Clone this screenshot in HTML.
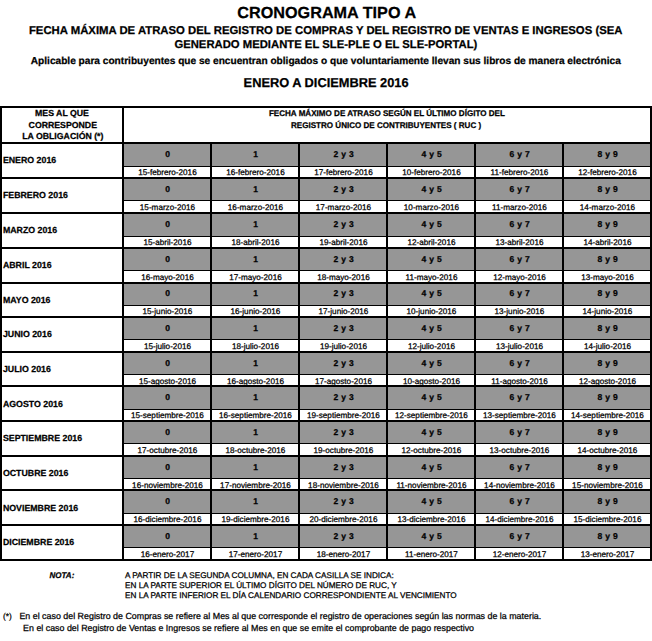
<!DOCTYPE html>
<html lang="es">
<head>
<meta charset="utf-8">
<title>Cronograma Tipo A</title>
<style>
html,body{margin:0;padding:0;background:#fff;}
body{width:652px;height:641px;overflow:hidden;}
svg{display:block;}
rect{shape-rendering:crispEdges;}
text{font-family:"Liberation Sans",sans-serif;fill:#000;white-space:pre;text-rendering:geometricPrecision;stroke:#000;stroke-width:0.25px;}
.b{font-weight:bold;}
.g{font-weight:bold;word-spacing:0.7px;}
.bi{font-weight:bold;font-style:italic;}
</style>
</head>
<body>
<svg width="652" height="641" viewBox="0 0 652 641">
<rect x="124" y="144" width="526" height="22" fill="#969696"/>
<rect x="124" y="166" width="526" height="1" fill="#000"/>
<rect x="124" y="179" width="526" height="21" fill="#969696"/>
<rect x="124" y="200" width="526" height="1" fill="#000"/>
<rect x="124" y="214" width="526" height="22" fill="#969696"/>
<rect x="124" y="236" width="526" height="1" fill="#000"/>
<rect x="124" y="249" width="526" height="21" fill="#969696"/>
<rect x="124" y="270" width="526" height="1" fill="#000"/>
<rect x="124" y="284" width="526" height="21" fill="#969696"/>
<rect x="124" y="305" width="526" height="1" fill="#000"/>
<rect x="124" y="318" width="526" height="21" fill="#969696"/>
<rect x="124" y="339" width="526" height="1" fill="#000"/>
<rect x="124" y="353" width="526" height="21" fill="#969696"/>
<rect x="124" y="374" width="526" height="1" fill="#000"/>
<rect x="124" y="387" width="526" height="22" fill="#969696"/>
<rect x="124" y="409" width="526" height="1" fill="#000"/>
<rect x="124" y="422" width="526" height="21" fill="#969696"/>
<rect x="124" y="443" width="526" height="1" fill="#000"/>
<rect x="124" y="457" width="526" height="21" fill="#969696"/>
<rect x="124" y="478" width="526" height="1" fill="#000"/>
<rect x="124" y="491" width="526" height="22" fill="#969696"/>
<rect x="124" y="513" width="526" height="1" fill="#000"/>
<rect x="124" y="526" width="526" height="21" fill="#969696"/>
<rect x="124" y="547" width="526" height="1" fill="#000"/>
<rect x="0" y="106" width="652" height="2" fill="#000"/>
<rect x="0" y="142" width="652" height="2" fill="#000"/>
<rect x="0" y="177" width="652" height="2" fill="#000"/>
<rect x="0" y="212" width="652" height="2" fill="#000"/>
<rect x="0" y="247" width="652" height="2" fill="#000"/>
<rect x="0" y="282" width="652" height="2" fill="#000"/>
<rect x="0" y="316" width="652" height="2" fill="#000"/>
<rect x="0" y="351" width="652" height="2" fill="#000"/>
<rect x="0" y="385" width="652" height="2" fill="#000"/>
<rect x="0" y="420" width="652" height="2" fill="#000"/>
<rect x="0" y="455" width="652" height="2" fill="#000"/>
<rect x="0" y="489" width="652" height="2" fill="#000"/>
<rect x="0" y="524" width="652" height="2" fill="#000"/>
<rect x="0" y="559" width="652" height="2" fill="#000"/>
<rect x="0" y="106" width="2" height="455" fill="#000"/>
<rect x="122" y="106" width="2" height="455" fill="#000"/>
<rect x="210" y="142" width="2" height="419" fill="#000"/>
<rect x="298" y="142" width="2" height="419" fill="#000"/>
<rect x="386" y="142" width="2" height="419" fill="#000"/>
<rect x="474" y="142" width="2" height="419" fill="#000"/>
<rect x="562" y="142" width="2" height="419" fill="#000"/>
<rect x="650" y="106" width="2" height="455" fill="#000"/>
<text x="237.30" y="17.80" font-size="16.04" class="b" textLength="178.80" lengthAdjust="spacingAndGlyphs">CRONOGRAMA TIPO A</text>
<text x="28.90" y="33.80" font-size="11.31" class="b" textLength="593.60" lengthAdjust="spacingAndGlyphs">FECHA MÁXIMA DE ATRASO DEL REGISTRO DE COMPRAS Y DEL REGISTRO DE VENTAS E INGRESOS (SEA</text>
<text x="174.40" y="48.40" font-size="11.31" class="b" textLength="303.00" lengthAdjust="spacingAndGlyphs">GENERADO MEDIANTE EL SLE-PLE O EL SLE-PORTAL)</text>
<text x="30.80" y="63.70" font-size="10.1" class="b" textLength="590.00" lengthAdjust="spacingAndGlyphs">Aplicable para contribuyentes que se encuentran obligados o que voluntariamente llevan sus libros de manera electrónica</text>
<text x="243.60" y="87.30" font-size="12.86" class="b" textLength="165.00" lengthAdjust="spacingAndGlyphs">ENERO A DICIEMBRE 2016</text>
<text x="62.00" y="116.00" font-size="8.74" class="b" text-anchor="middle">MES AL QUE</text>
<text x="62.80" y="127.80" font-size="8.74" class="b" text-anchor="middle">CORRESPONDE</text>
<text x="62.80" y="139.00" font-size="8.74" class="b" text-anchor="middle">LA OBLIGACIÓN (*)</text>
<text x="386.90" y="116.00" font-size="8.2" class="b" text-anchor="middle" textLength="236.00" lengthAdjust="spacingAndGlyphs">FECHA MÁXIMO DE ATRASO SEGÚN EL ÚLTIMO DÍGITO DEL</text>
<text x="386.10" y="128.00" font-size="8.2" class="b" text-anchor="middle" textLength="190.08" lengthAdjust="spacingAndGlyphs">REGISTRO ÚNICO DE CONTRIBUYENTES ( RUC )</text>
<text x="2.90" y="163.00" font-size="8.8" class="b">ENERO 2016</text>
<text x="167.60" y="157.00" font-size="8.5" class="g" text-anchor="middle">0</text>
<text x="167.45" y="175.00" font-size="8.2" class="d" text-anchor="middle" textLength="58.45" lengthAdjust="spacingAndGlyphs">15-febrero-2016</text>
<text x="255.60" y="157.00" font-size="8.5" class="g" text-anchor="middle">1</text>
<text x="255.45" y="175.00" font-size="8.2" class="d" text-anchor="middle" textLength="58.45" lengthAdjust="spacingAndGlyphs">16-febrero-2016</text>
<text x="343.60" y="157.00" font-size="8.5" class="g" text-anchor="middle">2 y 3</text>
<text x="343.45" y="175.00" font-size="8.2" class="d" text-anchor="middle" textLength="58.45" lengthAdjust="spacingAndGlyphs">17-febrero-2016</text>
<text x="431.60" y="157.00" font-size="8.5" class="g" text-anchor="middle">4 y 5</text>
<text x="431.45" y="175.00" font-size="8.2" class="d" text-anchor="middle" textLength="58.45" lengthAdjust="spacingAndGlyphs">10-febrero-2016</text>
<text x="519.60" y="157.00" font-size="8.5" class="g" text-anchor="middle">6 y 7</text>
<text x="519.45" y="175.00" font-size="8.2" class="d" text-anchor="middle" textLength="57.84" lengthAdjust="spacingAndGlyphs">11-febrero-2016</text>
<text x="607.60" y="157.00" font-size="8.5" class="g" text-anchor="middle">8 y 9</text>
<text x="607.45" y="175.00" font-size="8.2" class="d" text-anchor="middle" textLength="58.45" lengthAdjust="spacingAndGlyphs">12-febrero-2016</text>
<text x="2.90" y="198.00" font-size="8.8" class="b">FEBRERO 2016</text>
<text x="167.60" y="192.00" font-size="8.5" class="g" text-anchor="middle">0</text>
<text x="167.45" y="210.00" font-size="8.2" class="d" text-anchor="middle" textLength="55.27" lengthAdjust="spacingAndGlyphs">15-marzo-2016</text>
<text x="255.60" y="192.00" font-size="8.5" class="g" text-anchor="middle">1</text>
<text x="255.45" y="210.00" font-size="8.2" class="d" text-anchor="middle" textLength="55.27" lengthAdjust="spacingAndGlyphs">16-marzo-2016</text>
<text x="343.60" y="192.00" font-size="8.5" class="g" text-anchor="middle">2 y 3</text>
<text x="343.45" y="210.00" font-size="8.2" class="d" text-anchor="middle" textLength="55.27" lengthAdjust="spacingAndGlyphs">17-marzo-2016</text>
<text x="431.60" y="192.00" font-size="8.5" class="g" text-anchor="middle">4 y 5</text>
<text x="431.45" y="210.00" font-size="8.2" class="d" text-anchor="middle" textLength="55.27" lengthAdjust="spacingAndGlyphs">10-marzo-2016</text>
<text x="519.60" y="192.00" font-size="8.5" class="g" text-anchor="middle">6 y 7</text>
<text x="519.45" y="210.00" font-size="8.2" class="d" text-anchor="middle" textLength="54.66" lengthAdjust="spacingAndGlyphs">11-marzo-2016</text>
<text x="607.60" y="192.00" font-size="8.5" class="g" text-anchor="middle">8 y 9</text>
<text x="607.45" y="210.00" font-size="8.2" class="d" text-anchor="middle" textLength="55.27" lengthAdjust="spacingAndGlyphs">14-marzo-2016</text>
<text x="2.90" y="233.00" font-size="8.8" class="b">MARZO 2016</text>
<text x="167.60" y="227.00" font-size="8.5" class="g" text-anchor="middle">0</text>
<text x="167.45" y="245.00" font-size="8.2" class="d" text-anchor="middle" textLength="48.03" lengthAdjust="spacingAndGlyphs">15-abril-2016</text>
<text x="255.60" y="227.00" font-size="8.5" class="g" text-anchor="middle">1</text>
<text x="255.45" y="245.00" font-size="8.2" class="d" text-anchor="middle" textLength="48.03" lengthAdjust="spacingAndGlyphs">18-abril-2016</text>
<text x="343.60" y="227.00" font-size="8.5" class="g" text-anchor="middle">2 y 3</text>
<text x="343.45" y="245.00" font-size="8.2" class="d" text-anchor="middle" textLength="48.03" lengthAdjust="spacingAndGlyphs">19-abril-2016</text>
<text x="431.60" y="227.00" font-size="8.5" class="g" text-anchor="middle">4 y 5</text>
<text x="431.45" y="245.00" font-size="8.2" class="d" text-anchor="middle" textLength="48.03" lengthAdjust="spacingAndGlyphs">12-abril-2016</text>
<text x="519.60" y="227.00" font-size="8.5" class="g" text-anchor="middle">6 y 7</text>
<text x="519.45" y="245.00" font-size="8.2" class="d" text-anchor="middle" textLength="48.03" lengthAdjust="spacingAndGlyphs">13-abril-2016</text>
<text x="607.60" y="227.00" font-size="8.5" class="g" text-anchor="middle">8 y 9</text>
<text x="607.45" y="245.00" font-size="8.2" class="d" text-anchor="middle" textLength="48.03" lengthAdjust="spacingAndGlyphs">14-abril-2016</text>
<text x="2.90" y="268.00" font-size="8.8" class="b">ABRIL 2016</text>
<text x="167.60" y="262.00" font-size="8.5" class="g" text-anchor="middle">0</text>
<text x="167.45" y="280.00" font-size="8.2" class="d" text-anchor="middle" textLength="52.56" lengthAdjust="spacingAndGlyphs">16-mayo-2016</text>
<text x="255.60" y="262.00" font-size="8.5" class="g" text-anchor="middle">1</text>
<text x="255.45" y="280.00" font-size="8.2" class="d" text-anchor="middle" textLength="52.56" lengthAdjust="spacingAndGlyphs">17-mayo-2016</text>
<text x="343.60" y="262.00" font-size="8.5" class="g" text-anchor="middle">2 y 3</text>
<text x="343.45" y="280.00" font-size="8.2" class="d" text-anchor="middle" textLength="52.56" lengthAdjust="spacingAndGlyphs">18-mayo-2016</text>
<text x="431.60" y="262.00" font-size="8.5" class="g" text-anchor="middle">4 y 5</text>
<text x="431.45" y="280.00" font-size="8.2" class="d" text-anchor="middle" textLength="51.95" lengthAdjust="spacingAndGlyphs">11-mayo-2016</text>
<text x="519.60" y="262.00" font-size="8.5" class="g" text-anchor="middle">6 y 7</text>
<text x="519.45" y="280.00" font-size="8.2" class="d" text-anchor="middle" textLength="52.56" lengthAdjust="spacingAndGlyphs">12-mayo-2016</text>
<text x="607.60" y="262.00" font-size="8.5" class="g" text-anchor="middle">8 y 9</text>
<text x="607.45" y="280.00" font-size="8.2" class="d" text-anchor="middle" textLength="52.56" lengthAdjust="spacingAndGlyphs">13-mayo-2016</text>
<text x="2.90" y="303.00" font-size="8.8" class="b">MAYO 2016</text>
<text x="167.60" y="296.00" font-size="8.5" class="g" text-anchor="middle">0</text>
<text x="167.45" y="314.00" font-size="8.2" class="d" text-anchor="middle" textLength="49.85" lengthAdjust="spacingAndGlyphs">15-junio-2016</text>
<text x="255.60" y="296.00" font-size="8.5" class="g" text-anchor="middle">1</text>
<text x="255.45" y="314.00" font-size="8.2" class="d" text-anchor="middle" textLength="49.85" lengthAdjust="spacingAndGlyphs">16-junio-2016</text>
<text x="343.60" y="296.00" font-size="8.5" class="g" text-anchor="middle">2 y 3</text>
<text x="343.45" y="314.00" font-size="8.2" class="d" text-anchor="middle" textLength="49.85" lengthAdjust="spacingAndGlyphs">17-junio-2016</text>
<text x="431.60" y="296.00" font-size="8.5" class="g" text-anchor="middle">4 y 5</text>
<text x="431.45" y="314.00" font-size="8.2" class="d" text-anchor="middle" textLength="49.85" lengthAdjust="spacingAndGlyphs">10-junio-2016</text>
<text x="519.60" y="296.00" font-size="8.5" class="g" text-anchor="middle">6 y 7</text>
<text x="519.45" y="314.00" font-size="8.2" class="d" text-anchor="middle" textLength="49.85" lengthAdjust="spacingAndGlyphs">13-junio-2016</text>
<text x="607.60" y="296.00" font-size="8.5" class="g" text-anchor="middle">8 y 9</text>
<text x="607.45" y="314.00" font-size="8.2" class="d" text-anchor="middle" textLength="49.85" lengthAdjust="spacingAndGlyphs">14-junio-2016</text>
<text x="2.90" y="337.00" font-size="8.8" class="b">JUNIO 2016</text>
<text x="167.60" y="331.00" font-size="8.5" class="g" text-anchor="middle">0</text>
<text x="167.45" y="349.00" font-size="8.2" class="d" text-anchor="middle" textLength="47.12" lengthAdjust="spacingAndGlyphs">15-julio-2016</text>
<text x="255.60" y="331.00" font-size="8.5" class="g" text-anchor="middle">1</text>
<text x="255.45" y="349.00" font-size="8.2" class="d" text-anchor="middle" textLength="47.12" lengthAdjust="spacingAndGlyphs">18-julio-2016</text>
<text x="343.60" y="331.00" font-size="8.5" class="g" text-anchor="middle">2 y 3</text>
<text x="343.45" y="349.00" font-size="8.2" class="d" text-anchor="middle" textLength="47.12" lengthAdjust="spacingAndGlyphs">19-julio-2016</text>
<text x="431.60" y="331.00" font-size="8.5" class="g" text-anchor="middle">4 y 5</text>
<text x="431.45" y="349.00" font-size="8.2" class="d" text-anchor="middle" textLength="47.12" lengthAdjust="spacingAndGlyphs">12-julio-2016</text>
<text x="519.60" y="331.00" font-size="8.5" class="g" text-anchor="middle">6 y 7</text>
<text x="519.45" y="349.00" font-size="8.2" class="d" text-anchor="middle" textLength="47.12" lengthAdjust="spacingAndGlyphs">13-julio-2016</text>
<text x="607.60" y="331.00" font-size="8.5" class="g" text-anchor="middle">8 y 9</text>
<text x="607.45" y="349.00" font-size="8.2" class="d" text-anchor="middle" textLength="47.12" lengthAdjust="spacingAndGlyphs">14-julio-2016</text>
<text x="2.90" y="372.00" font-size="8.8" class="b">JULIO 2016</text>
<text x="167.60" y="366.00" font-size="8.5" class="g" text-anchor="middle">0</text>
<text x="167.45" y="384.00" font-size="8.2" class="d" text-anchor="middle" textLength="57.10" lengthAdjust="spacingAndGlyphs">15-agosto-2016</text>
<text x="255.60" y="366.00" font-size="8.5" class="g" text-anchor="middle">1</text>
<text x="255.45" y="384.00" font-size="8.2" class="d" text-anchor="middle" textLength="57.10" lengthAdjust="spacingAndGlyphs">16-agosto-2016</text>
<text x="343.60" y="366.00" font-size="8.5" class="g" text-anchor="middle">2 y 3</text>
<text x="343.45" y="384.00" font-size="8.2" class="d" text-anchor="middle" textLength="57.10" lengthAdjust="spacingAndGlyphs">17-agosto-2016</text>
<text x="431.60" y="366.00" font-size="8.5" class="g" text-anchor="middle">4 y 5</text>
<text x="431.45" y="384.00" font-size="8.2" class="d" text-anchor="middle" textLength="57.10" lengthAdjust="spacingAndGlyphs">10-agosto-2016</text>
<text x="519.60" y="366.00" font-size="8.5" class="g" text-anchor="middle">6 y 7</text>
<text x="519.45" y="384.00" font-size="8.2" class="d" text-anchor="middle" textLength="56.49" lengthAdjust="spacingAndGlyphs">11-agosto-2016</text>
<text x="607.60" y="366.00" font-size="8.5" class="g" text-anchor="middle">8 y 9</text>
<text x="607.45" y="384.00" font-size="8.2" class="d" text-anchor="middle" textLength="57.10" lengthAdjust="spacingAndGlyphs">12-agosto-2016</text>
<text x="2.90" y="407.00" font-size="8.8" class="b">AGOSTO 2016</text>
<text x="167.60" y="400.00" font-size="8.5" class="g" text-anchor="middle">0</text>
<text x="167.45" y="418.00" font-size="8.2" class="d" text-anchor="middle" textLength="72.94" lengthAdjust="spacingAndGlyphs">15-septiembre-2016</text>
<text x="255.60" y="400.00" font-size="8.5" class="g" text-anchor="middle">1</text>
<text x="255.45" y="418.00" font-size="8.2" class="d" text-anchor="middle" textLength="72.94" lengthAdjust="spacingAndGlyphs">16-septiembre-2016</text>
<text x="343.60" y="400.00" font-size="8.5" class="g" text-anchor="middle">2 y 3</text>
<text x="343.45" y="418.00" font-size="8.2" class="d" text-anchor="middle" textLength="72.94" lengthAdjust="spacingAndGlyphs">19-septiembre-2016</text>
<text x="431.60" y="400.00" font-size="8.5" class="g" text-anchor="middle">4 y 5</text>
<text x="431.45" y="418.00" font-size="8.2" class="d" text-anchor="middle" textLength="72.94" lengthAdjust="spacingAndGlyphs">12-septiembre-2016</text>
<text x="519.60" y="400.00" font-size="8.5" class="g" text-anchor="middle">6 y 7</text>
<text x="519.45" y="418.00" font-size="8.2" class="d" text-anchor="middle" textLength="72.94" lengthAdjust="spacingAndGlyphs">13-septiembre-2016</text>
<text x="607.60" y="400.00" font-size="8.5" class="g" text-anchor="middle">8 y 9</text>
<text x="607.45" y="418.00" font-size="8.2" class="d" text-anchor="middle" textLength="72.94" lengthAdjust="spacingAndGlyphs">14-septiembre-2016</text>
<text x="2.90" y="441.00" font-size="8.8" class="b">SEPTIEMBRE 2016</text>
<text x="167.60" y="435.00" font-size="8.5" class="g" text-anchor="middle">0</text>
<text x="167.45" y="453.00" font-size="8.2" class="d" text-anchor="middle" textLength="59.81" lengthAdjust="spacingAndGlyphs">17-octubre-2016</text>
<text x="255.60" y="435.00" font-size="8.5" class="g" text-anchor="middle">1</text>
<text x="255.45" y="453.00" font-size="8.2" class="d" text-anchor="middle" textLength="59.81" lengthAdjust="spacingAndGlyphs">18-octubre-2016</text>
<text x="343.60" y="435.00" font-size="8.5" class="g" text-anchor="middle">2 y 3</text>
<text x="343.45" y="453.00" font-size="8.2" class="d" text-anchor="middle" textLength="59.81" lengthAdjust="spacingAndGlyphs">19-octubre-2016</text>
<text x="431.60" y="435.00" font-size="8.5" class="g" text-anchor="middle">4 y 5</text>
<text x="431.45" y="453.00" font-size="8.2" class="d" text-anchor="middle" textLength="59.81" lengthAdjust="spacingAndGlyphs">12-octubre-2016</text>
<text x="519.60" y="435.00" font-size="8.5" class="g" text-anchor="middle">6 y 7</text>
<text x="519.45" y="453.00" font-size="8.2" class="d" text-anchor="middle" textLength="59.81" lengthAdjust="spacingAndGlyphs">13-octubre-2016</text>
<text x="607.60" y="435.00" font-size="8.5" class="g" text-anchor="middle">8 y 9</text>
<text x="607.45" y="453.00" font-size="8.2" class="d" text-anchor="middle" textLength="59.81" lengthAdjust="spacingAndGlyphs">14-octubre-2016</text>
<text x="2.90" y="476.00" font-size="8.8" class="b">OCTUBRE 2016</text>
<text x="167.60" y="470.00" font-size="8.5" class="g" text-anchor="middle">0</text>
<text x="167.45" y="488.00" font-size="8.2" class="d" text-anchor="middle" textLength="70.68" lengthAdjust="spacingAndGlyphs">16-noviembre-2016</text>
<text x="255.60" y="470.00" font-size="8.5" class="g" text-anchor="middle">1</text>
<text x="255.45" y="488.00" font-size="8.2" class="d" text-anchor="middle" textLength="70.68" lengthAdjust="spacingAndGlyphs">17-noviembre-2016</text>
<text x="343.60" y="470.00" font-size="8.5" class="g" text-anchor="middle">2 y 3</text>
<text x="343.45" y="488.00" font-size="8.2" class="d" text-anchor="middle" textLength="70.68" lengthAdjust="spacingAndGlyphs">18-noviembre-2016</text>
<text x="431.60" y="470.00" font-size="8.5" class="g" text-anchor="middle">4 y 5</text>
<text x="431.45" y="488.00" font-size="8.2" class="d" text-anchor="middle" textLength="70.07" lengthAdjust="spacingAndGlyphs">11-noviembre-2016</text>
<text x="519.60" y="470.00" font-size="8.5" class="g" text-anchor="middle">6 y 7</text>
<text x="519.45" y="488.00" font-size="8.2" class="d" text-anchor="middle" textLength="70.68" lengthAdjust="spacingAndGlyphs">14-noviembre-2016</text>
<text x="607.60" y="470.00" font-size="8.5" class="g" text-anchor="middle">8 y 9</text>
<text x="607.45" y="488.00" font-size="8.2" class="d" text-anchor="middle" textLength="70.68" lengthAdjust="spacingAndGlyphs">15-noviembre-2016</text>
<text x="2.90" y="511.00" font-size="8.8" class="b">NOVIEMBRE 2016</text>
<text x="167.60" y="504.00" font-size="8.5" class="g" text-anchor="middle">0</text>
<text x="167.45" y="522.00" font-size="8.2" class="d" text-anchor="middle" textLength="67.96" lengthAdjust="spacingAndGlyphs">16-diciembre-2016</text>
<text x="255.60" y="504.00" font-size="8.5" class="g" text-anchor="middle">1</text>
<text x="255.45" y="522.00" font-size="8.2" class="d" text-anchor="middle" textLength="67.96" lengthAdjust="spacingAndGlyphs">19-diciembre-2016</text>
<text x="343.60" y="504.00" font-size="8.5" class="g" text-anchor="middle">2 y 3</text>
<text x="343.45" y="522.00" font-size="8.2" class="d" text-anchor="middle" textLength="67.96" lengthAdjust="spacingAndGlyphs">20-diciembre-2016</text>
<text x="431.60" y="504.00" font-size="8.5" class="g" text-anchor="middle">4 y 5</text>
<text x="431.45" y="522.00" font-size="8.2" class="d" text-anchor="middle" textLength="67.96" lengthAdjust="spacingAndGlyphs">13-diciembre-2016</text>
<text x="519.60" y="504.00" font-size="8.5" class="g" text-anchor="middle">6 y 7</text>
<text x="519.45" y="522.00" font-size="8.2" class="d" text-anchor="middle" textLength="67.96" lengthAdjust="spacingAndGlyphs">14-diciembre-2016</text>
<text x="607.60" y="504.00" font-size="8.5" class="g" text-anchor="middle">8 y 9</text>
<text x="607.45" y="522.00" font-size="8.2" class="d" text-anchor="middle" textLength="67.96" lengthAdjust="spacingAndGlyphs">15-diciembre-2016</text>
<text x="2.90" y="545.00" font-size="8.8" class="b">DICIEMBRE 2016</text>
<text x="167.60" y="539.00" font-size="8.5" class="g" text-anchor="middle">0</text>
<text x="167.45" y="557.00" font-size="8.2" class="d" text-anchor="middle" textLength="53.47" lengthAdjust="spacingAndGlyphs">16-enero-2017</text>
<text x="255.60" y="539.00" font-size="8.5" class="g" text-anchor="middle">1</text>
<text x="255.45" y="557.00" font-size="8.2" class="d" text-anchor="middle" textLength="53.47" lengthAdjust="spacingAndGlyphs">17-enero-2017</text>
<text x="343.60" y="539.00" font-size="8.5" class="g" text-anchor="middle">2 y 3</text>
<text x="343.45" y="557.00" font-size="8.2" class="d" text-anchor="middle" textLength="53.47" lengthAdjust="spacingAndGlyphs">18-enero-2017</text>
<text x="431.60" y="539.00" font-size="8.5" class="g" text-anchor="middle">4 y 5</text>
<text x="431.45" y="557.00" font-size="8.2" class="d" text-anchor="middle" textLength="52.87" lengthAdjust="spacingAndGlyphs">11-enero-2017</text>
<text x="519.60" y="539.00" font-size="8.5" class="g" text-anchor="middle">6 y 7</text>
<text x="519.45" y="557.00" font-size="8.2" class="d" text-anchor="middle" textLength="53.47" lengthAdjust="spacingAndGlyphs">12-enero-2017</text>
<text x="607.60" y="539.00" font-size="8.5" class="g" text-anchor="middle">8 y 9</text>
<text x="607.45" y="557.00" font-size="8.2" class="d" text-anchor="middle" textLength="53.47" lengthAdjust="spacingAndGlyphs">13-enero-2017</text>
<text x="49.60" y="578.00" font-size="8.2" class="bi" textLength="24.73" lengthAdjust="spacingAndGlyphs">NOTA:</text>
<text x="125.00" y="578.00" font-size="8.2" textLength="268.75" lengthAdjust="spacingAndGlyphs">A PARTIR DE LA SEGUNDA COLUMNA, EN CADA CASILLA SE INDICA:</text>
<text x="125.00" y="588.20" font-size="8.2" textLength="271.75" lengthAdjust="spacingAndGlyphs">EN LA PARTE SUPERIOR EL ÚLTIMO DÍGITO DEL NÚMERO DE RUC, Y</text>
<text x="125.00" y="598.00" font-size="8.2" textLength="331.68" lengthAdjust="spacingAndGlyphs">EN LA PARTE INFERIOR EL DÍA CALENDARIO CORRESPONDIENTE AL VENCIMIENTO</text>
<text x="2.90" y="619.00" font-size="8.3">(*)</text>
<text x="19.40" y="619.00" font-size="8.85" textLength="521.87" lengthAdjust="spacingAndGlyphs">En el caso del Registro de Compras se refiere al Mes al que corresponde el registro de operaciones según las normas de la materia.</text>
<text x="23.10" y="631.00" font-size="8.85" textLength="450.94" lengthAdjust="spacingAndGlyphs">En el caso del Registro de Ventas e Ingresos se refiere al Mes en que se emite el comprobante de pago respectivo</text>
</svg>
</body>
</html>
